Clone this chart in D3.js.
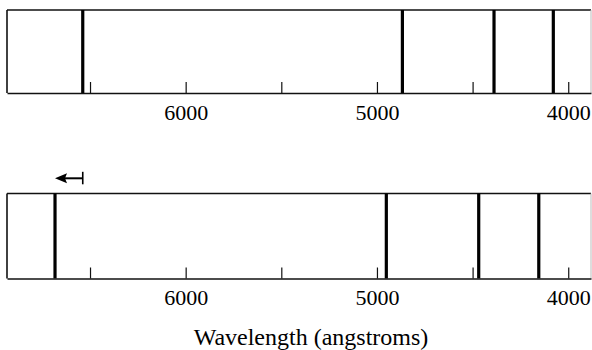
<!DOCTYPE html>
<html><head><meta charset="utf-8">
<script src="https://cdn.jsdelivr.net/npm/d3@7/dist/d3.min.js"></script>
<style>body{margin:0;background:#fff}svg{display:block}</style>
</head><body>
<script>
// Data
const tickValues = [6500, 6000, 5500, 5000, 4500, 4000];
const tickLabels = {6000: "6000", 5000: "5000", 4000: "4000"};
const restLines = [6538, 4867, 4388, 4078];      // top spectrum (Å)
const shiftedLines = [6683, 4951, 4468, 4154];   // bottom spectrum (Å)
const xLabel = "Wavelength (angstroms)";

const W = 592, H = 350;
const serif = "'Liberation Serif', 'Times New Roman', serif";
const svg = d3.select("body").append("svg").attr("width", W).attr("height", H);
const x = d3.scaleLinear().domain([6934, 3881]).range([7, 591]);

const panels = [
  {top: 10, bottom: 93, lines: restLines},
  {top: 193.5, bottom: 278.5, lines: shiftedLines}
];

panels.forEach(p => {
  const g = svg.append("g");
  g.append("line").attr("x1", x.range()[0]).attr("x2", x.range()[1]).attr("y1", p.top).attr("y2", p.top)
    .attr("stroke", "#111").attr("stroke-width", 1.6);
  g.append("line").attr("x1", x.range()[0]).attr("x2", x.range()[0]).attr("y1", p.top).attr("y2", p.bottom)
    .attr("stroke", "#111").attr("stroke-width", 1.6);
  g.append("line").attr("x1", x.range()[1]).attr("x2", x.range()[1]).attr("y1", p.top).attr("y2", p.bottom)
    .attr("stroke", "#bbb").attr("stroke-width", 1);
  g.selectAll("line.spec").data(p.lines).enter().append("line").attr("class", "spec")
    .attr("x1", d => x(d)).attr("x2", d => x(d)).attr("y1", p.top).attr("y2", p.bottom)
    .attr("stroke", "#000").attr("stroke-width", 3.2);
  const axis = d3.axisBottom(x).tickValues(tickValues)
    .tickSizeInner(-11).tickSizeOuter(0).tickPadding(11)
    .tickFormat(d => tickLabels[d] || "");
  const ag = g.append("g").attr("transform", `translate(0,${p.bottom})`).call(axis);
  ag.attr("font-family", serif).attr("font-size", 22);
  ag.select(".domain").attr("stroke", "#111").attr("stroke-width", 1.6);
  ag.selectAll(".tick line").attr("stroke", "#111").attr("stroke-width", 1.2);
  ag.selectAll(".tick text").style("font-family", serif).style("font-size", "22px").attr("fill", "#000");
});

// arrow showing shift of the first line
const ay = 178.3;
const xa0 = x(restLines[0]), xa1 = x(shiftedLines[0]);
svg.append("line").attr("x1", xa0).attr("x2", xa1 + 8).attr("y1", ay).attr("y2", ay)
  .attr("stroke", "#000").attr("stroke-width", 2);
svg.append("line").attr("x1", xa0).attr("x2", xa0).attr("y1", ay - 6.5).attr("y2", ay + 6)
  .attr("stroke", "#000").attr("stroke-width", 1.6);
svg.append("path").attr("d", `M${xa1},${ay} L${xa1 + 12},${ay - 5} L${xa1 + 10},${ay} L${xa1 + 12},${ay + 5} Z`).attr("fill", "#000");

svg.append("text").attr("x", 311).attr("y", 345).attr("text-anchor", "middle")
  .style("font-family", serif).style("font-size", "24px")
  .text(xLabel);
</script>
</body></html>
